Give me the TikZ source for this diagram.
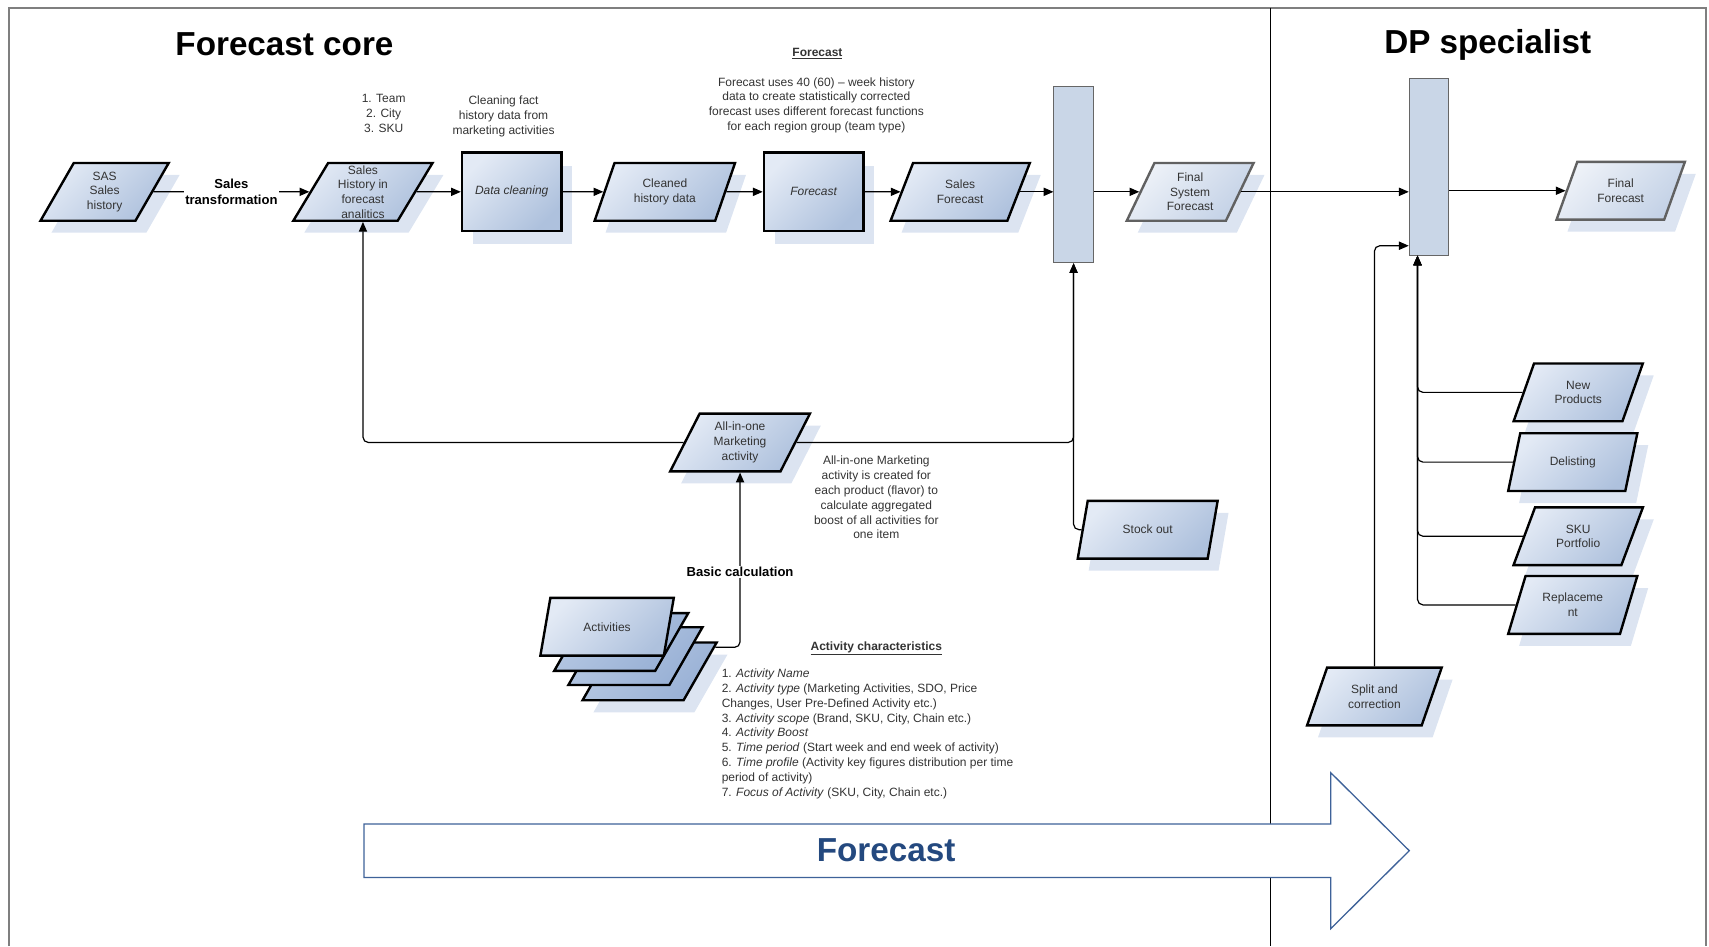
\documentclass[tikz,border=0pt]{standalone}
\usepackage{fontspec}
\setmainfont{Liberation Sans}
\usetikzlibrary{shapes.geometric,shadows,arrows.meta,calc}
\definecolor{pl}{HTML}{E3EAF5}
\definecolor{pd}{HTML}{AEC1DD}
\definecolor{fl}{HTML}{EEF2F8}
\definecolor{fd}{HTML}{C3D1E6}
\definecolor{bl}{HTML}{B7C9E3}
\definecolor{bd}{HTML}{98B0D5}
\definecolor{shd}{HTML}{DCE4F1}
\definecolor{barc}{HTML}{C9D6E7}
\definecolor{txt}{HTML}{333333}
\definecolor{arrblue}{HTML}{3E6299}
\definecolor{fblue}{HTML}{24497F}
\definecolor{framec}{HTML}{7F7F7F}
\begin{document}
\begin{tikzpicture}[x=1pt,y=-1pt,
  every node/.style={font=\fontsize{11}{13.5}\selectfont, text=txt, align=center, inner sep=0pt},
  parashape/.style={shape=trapezium, trapezium left angle=64.7, trapezium right angle=115.3,
    trapezium stretches=true, minimum height=53pt},
  parabase/.style={parashape, draw=black, line width=2.2pt,
    top color=pl, bottom color=pd, shading angle=45},
  para/.style={parabase,
    general shadow={fill=shd, draw=none, shadow xshift=10pt, shadow yshift=-11pt}},
  fpara/.style={para, draw=black!62, top color=fl, bottom color=fd, shading angle=45},
  backpara/.style={parashape, minimum width=123pt, draw=black, line width=2.2pt,
    top color=bl, bottom color=bd, shading angle=45},
  shpara/.style={parashape, minimum width=123pt, fill=shd, draw=none},
  procbox/.style={rectangle, minimum width=91pt, minimum height=72pt, draw=black, line width=2.4pt,
    top color=pl, bottom color=pd, shading angle=45, font=\fontsize{11}{13.5}\selectfont\itshape,
    general shadow={fill=shd, draw=none, shadow xshift=10pt, shadow yshift=-12pt}},
  bar/.style={rectangle, minimum width=36pt, minimum height=162pt, draw=black!60, line width=0.9pt, fill=barc},
  arr/.style={draw=black, line width=1.1pt, -{Triangle[length=9pt,width=7.5pt]}},
  lbl/.style={fill=white, font=\fontsize{12}{14.5}\selectfont\bfseries, text=black, inner sep=1pt},
  note/.style={font=\fontsize{11}{13.6}\selectfont},
  ttl/.style={font=\fontsize{30.5}{34}\selectfont\bfseries, text=black}
]
\useasboundingbox (0,0) rectangle (1568,868);
% frame and divider
\draw[framec, line width=1.6pt] (8,868) -- (8,7) -- (1565,7) -- (1565,868);
\draw[black, line width=0.8pt] (1166,7) -- (1166,868);

\node[ttl] (t1) at (261,41) {Forecast core};
\node[ttl] (t2) at (1365,41) {DP specialist};

% top row
\node[para, minimum width=118pt] (sas) at (96,176) {SAS\\Sales\\history};
\node[para, minimum width=129pt] (hist) at (333,176) {Sales\\History in\\forecast\\analitics};
\node[procbox] (dclean) at (469.5,176) {Data cleaning};
\node[para, minimum width=129pt] (clean) at (610,176) {Cleaned\\history data};
\node[procbox] (fcbox) at (746.5,176) {Forecast};
\node[para, minimum width=128pt] (sfc) at (881,176) {Sales\\Forecast};
\node[bar] (bar1) at (985,160) {};
\node[fpara, minimum width=117pt] (fsf) at (1092,176) {Final\\System\\Forecast};
\node[bar] (bar2) at (1311,153) {};
\node[fpara, minimum width=118pt] (ff) at (1487,175) {Final\\Forecast};

% notes top
\node[note] (n1) at (352,104) {1. Team\\2. City\\3. SKU};
\node[note] (n2) at (462,107) {Cleaning fact\\history data from\\marketing activities};
\node[note] (n3h) at (750,49) {\underline{\textbf{Forecast}}};
\node[note] (n3) at (749,96.5) {Forecast uses 40 (60) -- week history\\data to create statistically corrected\\forecast uses different forecast functions\\for each region group (team type)};

% middle
\node[para, minimum width=129pt] (aio) at (679,406) {All-in-one\\Marketing\\activity};
\node[note] (n4) at (804,456.5) {All-in-one Marketing\\activity is created for\\each product (flavor) to\\calculate aggregated\\boost of all activities for\\one item};
\node[para, minimum width=129pt] (stock) at (1053,486) {Stock out};

% activities stack
\node[shpara] (act4s) at (606,627) {\phantom{A}};
\node[backpara] (act4) at (596,616) {\phantom{A}};
\node[backpara] (act3) at (583,602) {\phantom{A}};
\node[backpara] (act2) at (570,589) {\phantom{A}};
\node[parabase, minimum width=123pt] (act) at (557,575) {Activities};

\node[note, font=\fontsize{11}{13.6}\selectfont\bfseries] (achh) at (804,595) {\underline{Activity characteristics}};
\node[note, align=left, anchor=north west] (ach) at (662,613.5) {%
1. \textit{Activity Name}\\
2. \textit{Activity type} (Marketing Activities, SDO, Price\\
Changes, User Pre-Defined Activity etc.)\\
3. \textit{Activity scope} (Brand, SKU, City, Chain etc.)\\
4. \textit{Activity Boost}\\
5. \textit{Time period} (Start week and end week of activity)\\
6. \textit{Time profile} (Activity key figures distribution per time\\
period of activity)\\
7. \textit{Focus of Activity} (SKU, City, Chain etc.)};

% right column
\node[para, minimum width=119pt] (newp) at (1448,360) {New\\Products};
\node[para, minimum width=119pt] (delist) at (1443,424) {Delisting};
\node[para, minimum width=119pt] (sku) at (1448,492) {SKU\\Portfolio};
\node[para, minimum width=119pt] (repl) at (1443,555) {Replaceme\\nt};
\node[para, minimum width=124pt] (split) at (1261,639) {Split and\\correction};

% connectors top row
\draw[arr] (sas) -- node[lbl] (stl) {Sales\\transformation} (hist);
\draw[arr] (hist) -- (dclean);
\draw[arr] (dclean) -- (clean);
\draw[arr] (clean) -- (fcbox);
\draw[arr] (fcbox) -- (sfc);
\draw[arr] (sfc.east) -- (sfc.east -| bar1.west);
\draw[arr] (bar1.east |- fsf.west) -- (fsf.west);
\draw[arr] (fsf.east) -- (fsf.east -| bar2.west);
\draw[arr] (bar2.east |- ff.west) -- (ff.west);

% marketing connectors
\draw[arr, rounded corners=5pt] (aio.west) -| (hist.south);
\draw[arr, rounded corners=5pt] (aio.east) -| (bar1.south);
\draw[arr, rounded corners=5pt] (stock.west) -| (bar1.south);
\draw[arr, rounded corners=5pt] ($(act4.top right corner)!0.1!(act4.bottom right corner)$) -| (aio.south);
\node[lbl] (bcalc) at (679,525) {Basic calculation};

% right column connectors
\coordinate (trunk) at ($(bar2.south west)+(8,0)$);
\draw[arr, rounded corners=5pt] (newp.west) -| (trunk);
\draw[arr, rounded corners=5pt] (delist.west) -| (trunk);
\draw[arr, rounded corners=5pt] (sku.west) -| (trunk);
\draw[arr, rounded corners=5pt] (repl.west) -| (trunk);
\draw[arr, rounded corners=5pt] (split.north) |- ($(bar2.south west)+(0,-9)$);

% big arrow
\draw[arrblue, line width=1.2pt, fill=white] (334,756) -- (1221,756) -- (1221,709) -- (1293,780.5)
  -- (1221,852) -- (1221,805) -- (334,805) -- cycle;
\node[font=\fontsize{30.5}{34}\selectfont\bfseries, text=fblue] (bigf) at (813,780) {Forecast};
\end{tikzpicture}
\end{document}
